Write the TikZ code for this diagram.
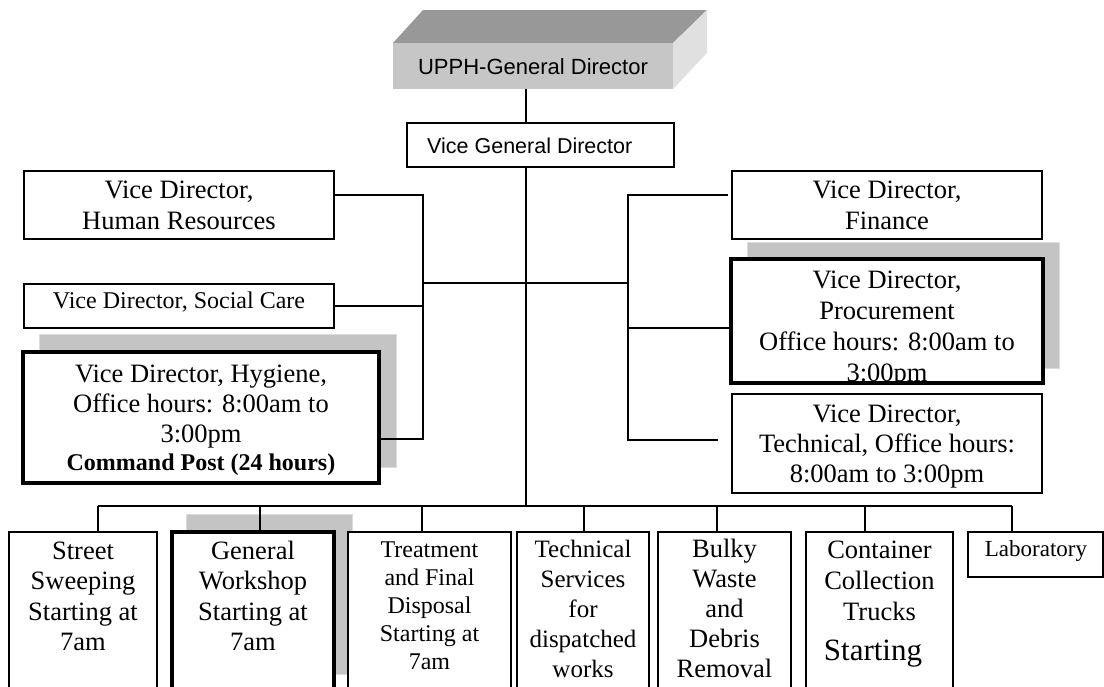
\documentclass[tikz,border=0pt]{standalone}
\usepackage{fontspec}
\setmainfont{Liberation Serif}
\newfontfamily\arialf{Liberation Sans}
\definecolor{shadowgray}{RGB}{196,196,196}
\definecolor{shadowedge}{RGB}{220,220,220}
\definecolor{topface}{RGB}{152,152,152}
\definecolor{frontface}{RGB}{198,198,198}
\definecolor{sideface}{RGB}{224,224,224}
\tikzset{
  box/.style={draw=black, line width=1.6pt, fill=white, inner sep=0pt, outer sep=0pt},
  thickbox/.style={draw=black, line width=3.4pt, fill=white, inner sep=0pt, outer sep=0pt},
  shadowbox/.style={fill=shadowgray, draw=shadowedge, line width=1pt},
  conn/.style={draw=black, line width=1.6pt},
  txt/.style={align=center, inner sep=0pt, anchor=base, font=\fontsize{26.5}{31}\selectfont},
}
\begin{document}
\begin{tikzpicture}[x=1pt,y=-1pt]
\useasboundingbox (0,0) rectangle (1104,686);
\clip (0,0) rectangle (1104,686);
% top 3D box
\fill[topface] (393,43) -- (423,10) -- (707,10) -- (673,43) -- cycle;
\fill[sideface] (673,43) -- (707,10) -- (707,53) -- (673,89) -- cycle;
\node[fill=frontface, minimum width=280pt, minimum height=46pt, inner sep=0pt, outer sep=0pt] (gd) at (533,66) {};
\node[anchor=base, inner sep=0pt, font=\arialf\fontsize{22}{26}\selectfont] (tgd) at (533,74) {UPPH-General Director};
% vice general director
\node[box, minimum width=267pt, minimum height=44pt] (vgd) at (540.5,145) {};
\node[anchor=base west, inner sep=0pt, font=\arialf\fontsize{21.5}{26}\selectfont] (tvgd) at (427,153) {Vice General Director};
% shadows
\fill[shadowbox] (39,334) rectangle (396,467);
\fill[shadowbox] (747,242) rectangle (1059,368);
\fill[shadowbox] (186,514) rectangle (352,674);
% left boxes
\node[box, minimum width=310pt, minimum height=68pt] (hr) at (179,205) {};
\node[box, minimum width=310pt, minimum height=44pt] (soc) at (179,306) {};
\node[thickbox, minimum width=356pt, minimum height=131pt] (hyg) at (201,417.5) {};
% right boxes
\node[box, minimum width=310pt, minimum height=68pt] (fin) at (887,205) {};
\node[thickbox, minimum width=312pt, minimum height=124pt] (proc) at (887,321) {};
\node[box, minimum width=310pt, minimum height=99pt] (tvd) at (887,443.5) {};
% bottom boxes
\node[box, minimum width=148pt, minimum height=168pt] (street) at (83,616) {};
\node[thickbox, minimum width=162pt, minimum height=168pt] (gw) at (253,616) {};
\node[box, minimum width=163pt, minimum height=168pt] (treat) at (429.5,616) {};
\node[box, minimum width=132pt, minimum height=168pt] (tserv) at (583,616) {};
\node[box, minimum width=133pt, minimum height=168pt] (bulky) at (724.5,616) {};
\node[box, minimum width=147pt, minimum height=168pt] (cont) at (879.5,616) {};
\node[box, minimum width=135pt, minimum height=45pt] (lab) at (1035.5,554.5) {};
% connectors
\coordinate (tr) at (526,0);
\draw[conn] (tr |- gd.south) -- (tr |- vgd.north);
\coordinate (bS) at (98,506);
\coordinate (bG) at (260,506);
\coordinate (bT) at (422,506);
\coordinate (bTS) at (584,506);
\coordinate (bB) at (717,506);
\coordinate (bC) at (865,506);
\coordinate (bL) at (1012,506);
\draw[conn] (tr |- vgd.south) -- (tr |- bS);
\draw[conn] (bS) -- (bL);
\draw[conn] (bS) -- (bS |- street.north);
\draw[conn] (bG) -- (bG |- gw.north);
\draw[conn] (bT) -- (bT |- treat.north);
\draw[conn] (bTS) -- (bTS |- tserv.north);
\draw[conn] (bB) -- (bB |- bulky.north);
\draw[conn] (bC) -- (bC |- cont.north);
\draw[conn] (bL) -- (bL |- lab.north);
\coordinate (lbA) at (423,195);
\coordinate (lbB) at (423,439);
\coordinate (mid) at (526,283);
\coordinate (rbA) at (628,195);
\coordinate (rbP) at (628,328);
\coordinate (rbB) at (628,440);
\draw[conn] (hr.east |- lbA) -- (lbA) -- (lbB) -- (hyg.east |- lbB);
\draw[conn] (soc.east) -- (soc.east -| lbA);
\draw[conn] (mid -| lbA) -- (mid -| rbA);
\draw[conn] ([xshift=-4pt]fin.west |- rbA) -- (rbA) -- (rbB) -- ([xshift=-14pt]tvd.west |- rbB);
\draw[conn] (rbP) -- (rbP -| proc.west);
% texts (anchor base = baseline of the last line)
\node[txt] (thr) at (179,229) {Vice Director,\\Human Resources};
\node[txt] (tfin) at (887,229) {Vice Director,\\Finance};
\node[txt, font=\fontsize{24}{28}\selectfont] (tsoc) at (179,308.5) {Vice Director, Social Care};
\node[txt, font=\fontsize{26.5}{30}\selectfont] (thyg) at (201,442) {Vice Director, Hygiene,\\Office hours: 8:00am to\\3:00pm};
\node[txt, font=\fontsize{24}{28}\selectfont\bfseries] (thygb) at (201,470) {Command Post (24 hours)};
\begin{scope}
\clip (proc.south west) rectangle (proc.north east);
\node[txt] (tproc) at (887,381) {Vice Director,\\Procurement\\Office hours: 8:00am to\\3:00pm};
\end{scope}
\draw[line width=3.4pt] (proc.south west) rectangle (proc.north east);
\node[txt, font=\fontsize{26.5}{30}\selectfont] (ttvd) at (887,482) {Vice Director,\\Technical, Office hours:\\8:00am to 3:00pm};
\node[txt, font=\fontsize{26.5}{30.5}\selectfont] (tstreet) at (83,650.5) {Street\\Sweeping\\Starting at\\7am};
\node[txt, font=\fontsize{26.5}{30.5}\selectfont] (tgw) at (253,650.5) {General\\Workshop\\Starting at\\7am};
\node[txt, font=\fontsize{24}{28}\selectfont] (ttreat) at (429.5,669) {Treatment\\and Final\\Disposal\\Starting at\\7am};
\node[txt, font=\fontsize{25}{30}\selectfont] (ttserv) at (583,677) {Technical\\Services\\for\\dispatched\\works};
\node[txt, font=\fontsize{26.5}{30}\selectfont] (tbulky) at (724.5,677) {Bulky\\Waste\\and\\Debris\\Removal};
\node[txt, font=\fontsize{26.5}{31}\selectfont] (tcont) at (879.5,620) {Container\\Collection\\Trucks};
\node[txt, font=\fontsize{31}{36}\selectfont] (tstart) at (873,660) {Starting};
\node[txt, font=\fontsize{23}{27}\selectfont] (tlab) at (1036,556) {Laboratory};
\end{tikzpicture}
\end{document}
